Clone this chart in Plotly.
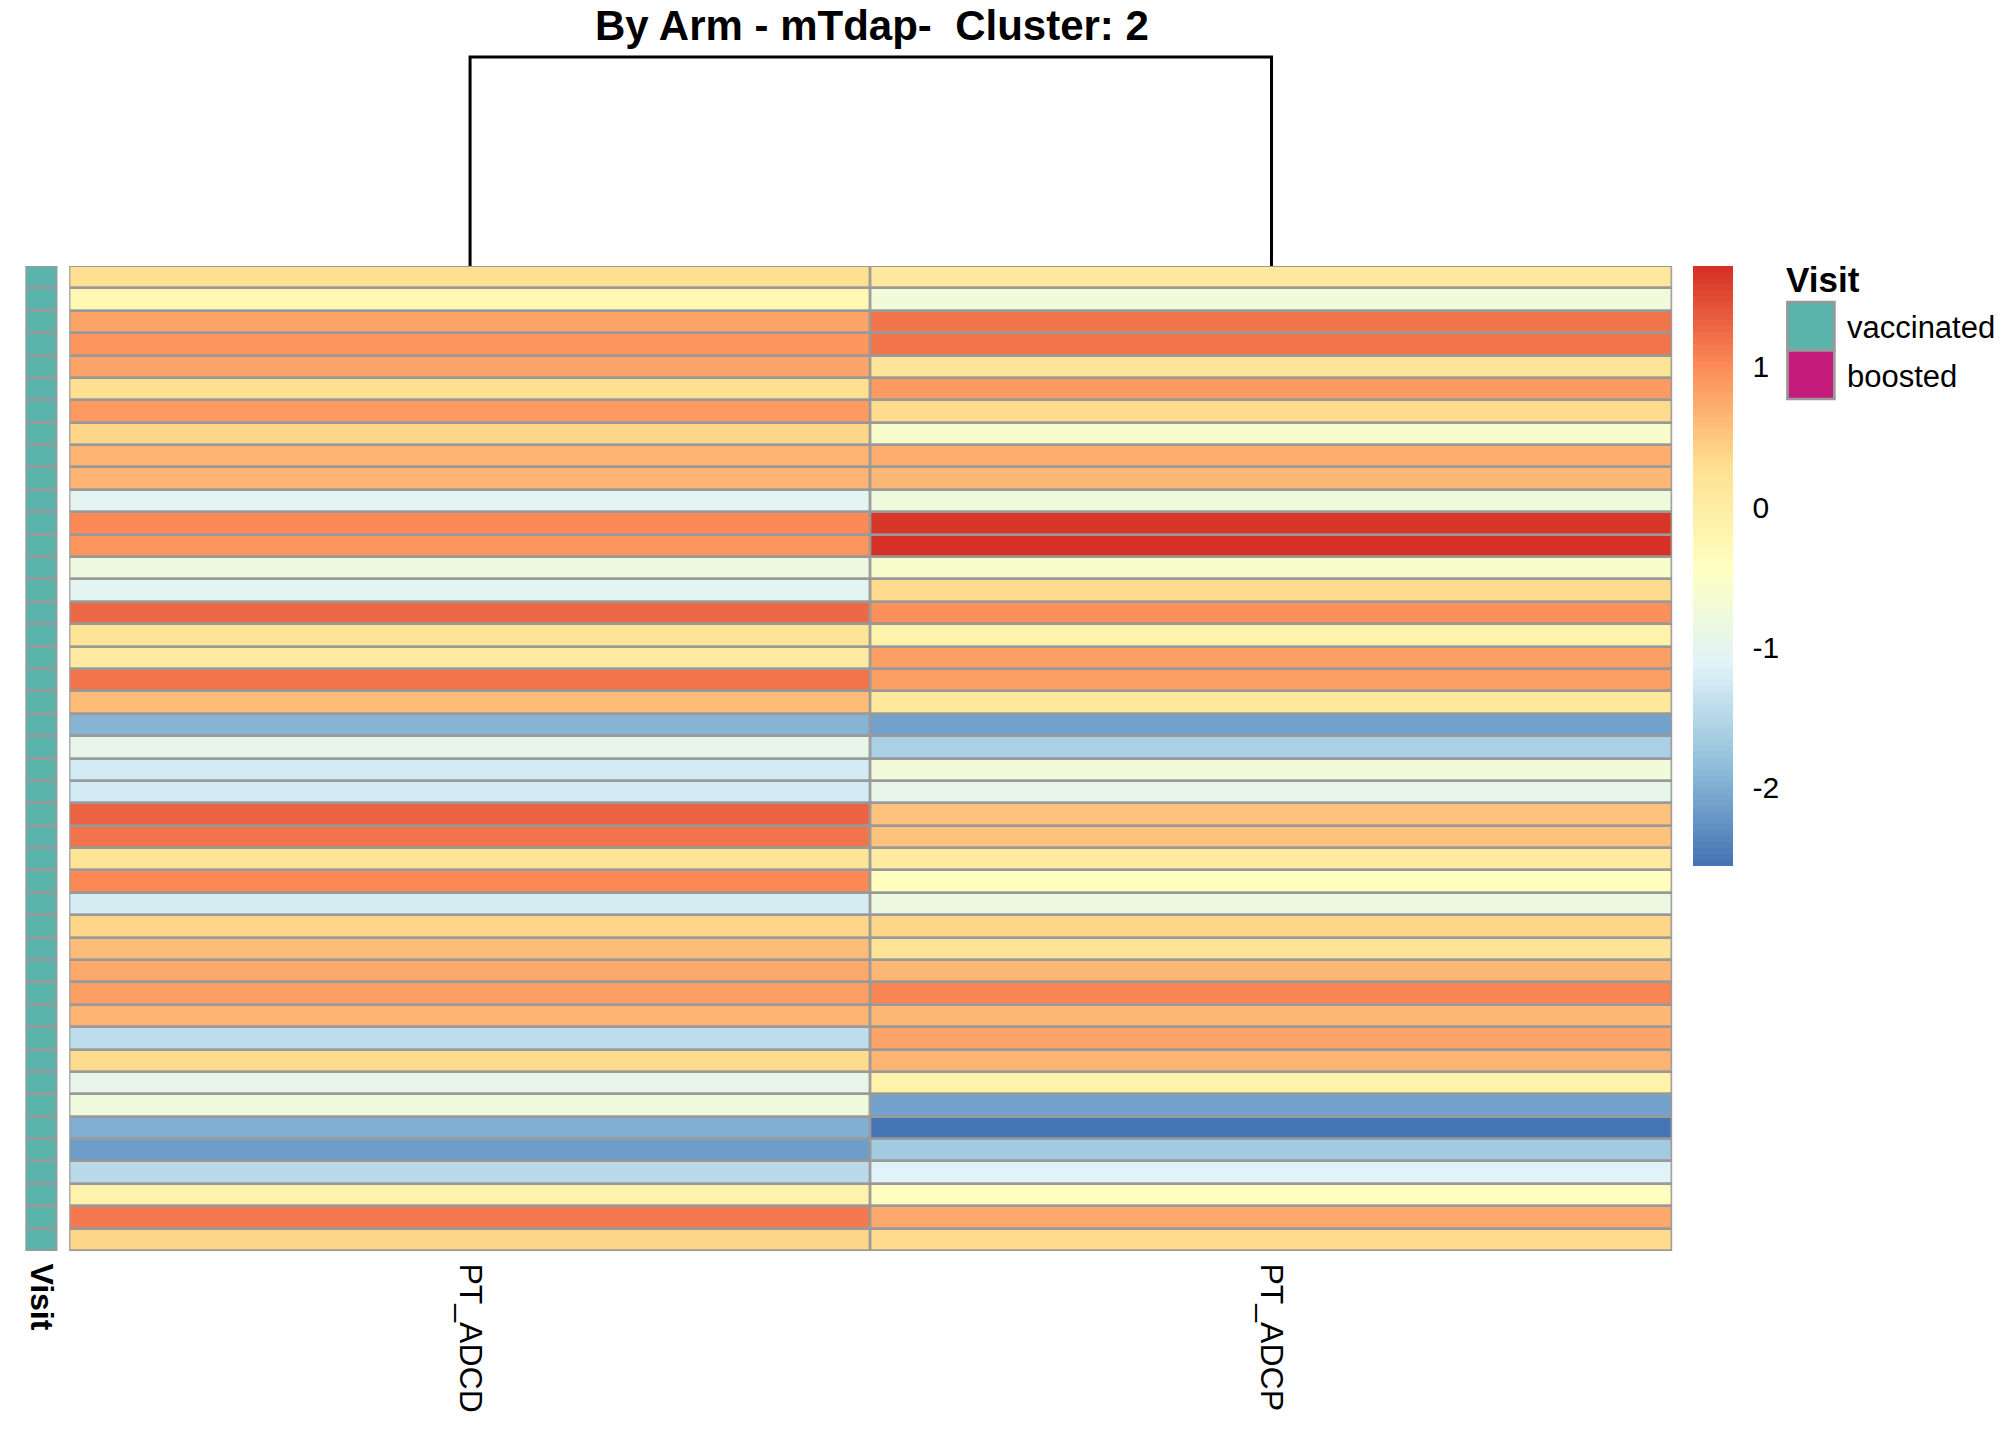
import numpy as np
import plotly.graph_objects as go

W, H = 2016, 1440
FONT = "Liberation Sans, Arial, sans-serif"

# heatmap values, rows top to bottom
columns = ["PT_ADCD", "PT_ADCP"]
pt_adcd = [0.28, -0.29, 0.80, 0.93, 0.80, 0.28, 0.89, 0.38, 0.68, 0.69,
           -1.02, 1.02, 0.93, -0.81, -1.02, 1.25, 0.19, 0.01, 1.17, 0.58,
           -1.95, -0.95, -1.26, -1.26, 1.32, 1.17, 0.18, 1.03, -1.23, 0.39,
           0.57, 0.76, 0.85, 0.66, -1.42, 0.32, -0.95, -0.77, -1.97, -2.17,
           -1.49, -0.15, 1.13, 0.39]
pt_adcp = [0.10, -0.74, 1.19, 1.17, 0.18, 0.89, 0.33, -0.59, 0.72, 0.64,
           -0.77, 1.67, 1.72, -0.59, 0.34, 0.96, -0.13, 0.86, 0.86, 0.10,
           -2.09, -1.58, -0.74, -0.95, 0.54, 0.54, 0.03, -0.40, -0.81, 0.38,
           0.19, 0.64, 1.07, 0.64, 0.78, 0.67, -0.13, -2.10, -2.56, -1.68,
           -1.13, -0.38, 0.75, 0.31]
visit = ["vaccinated"] * 44
visit_levels = ["vaccinated", "boosted"]
visit_colors = ["#5BB4AB", "#C51B7D"]
cbar_ticks = [-2, -1, 0, 1]

z = np.column_stack([pt_adcd, pt_adcp])
nrow = z.shape[0]
zmin, zmax = z.min(), z.max()


def px(x):
    return x / W


def py(y):
    return 1 - y / H


# pheatmap style: 100 colours ramped from rev(RdYlBu 7)
base = ["#4575B4", "#91BFDB", "#E0F3F8", "#FFFFBF", "#FEE090", "#FC8D59", "#D73027"]
rgb = np.array([[int(c[i:i + 2], 16) for i in (1, 3, 5)] for c in base], float)
t = np.linspace(0, 1, 100)
ramp = np.column_stack([np.interp(t, np.linspace(0, 1, 7), rgb[:, k]) for k in range(3)])
cscale = []
for i, c in enumerate(ramp):
    col = "rgb(%d,%d,%d)" % tuple(np.round(c))
    cscale.append([i / 100, col])
    cscale.append([(i + 1) / 100, col])

# column dendrogram height = euclidean distance between the two columns
dist = float(np.sqrt(((z[:, 0] - z[:, 1]) ** 2).sum()))

GAP = 2.7
GREY = "#999999"

fig = go.Figure()

fig.add_trace(go.Heatmap(
    z=z, x=[0, 1], y=list(range(nrow)),
    colorscale=cscale, zmin=zmin, zmax=zmax,
    xgap=GAP, ygap=GAP, hoverinfo="skip",
    colorbar=dict(
        thickness=40, thicknessmode="pixels",
        len=600, lenmode="pixels",
        x=px(1695), xanchor="left", y=py(266), yanchor="top",
        xpad=0, ypad=0, outlinewidth=0,
        tickvals=cbar_ticks, ticktext=[str(v) for v in cbar_ticks],
        ticks="outside", ticklen=14, tickcolor="rgba(0,0,0,0)",
        tickfont=dict(family=FONT, size=30, color="black"),
    ),
))

codes = [[visit_levels.index(v)] for v in visit]
fig.add_trace(go.Heatmap(
    z=codes, x=[0], y=list(range(nrow)), xaxis="x2", yaxis="y",
    colorscale=[[0, visit_colors[0]], [1, visit_colors[1]]],
    zmin=0, zmax=1, showscale=False, xgap=GAP, ygap=GAP, hoverinfo="skip",
))

fig.add_trace(go.Scatter(
    x=[0, 0, 1, 1], y=[0, dist, dist, 0], xaxis="x", yaxis="y3",
    mode="lines", line=dict(color="black", width=3), hoverinfo="skip",
    showlegend=False,
))

# grey backing so the gaps read as cell borders
for xr in ("x", "x2"):
    x0, x1 = (-0.5, 1.5) if xr == "x" else (-0.5, 0.5)
    fig.add_shape(type="rect", xref=xr, yref="y", x0=x0, x1=x1,
                  y0=-0.5, y1=nrow - 0.5, fillcolor=GREY,
                  line=dict(color=GREY, width=GAP), layer="below")

# annotation legend
fig.add_annotation(text="<b>Visit</b>", xref="paper", yref="paper",
                   x=px(1787), y=py(280), xanchor="left", yanchor="middle",
                   showarrow=False, font=dict(family=FONT, size=35, color="black"))
for i, (lab, col) in enumerate(zip(visit_levels, visit_colors)):
    y0 = 302 + i * 48.5
    fig.add_shape(type="rect", xref="paper", yref="paper",
                  x0=px(1790), x1=px(1837), y0=py(y0), y1=py(y0 + 48.5),
                  fillcolor=col, line=dict(color=GREY, width=GAP))
    fig.add_annotation(text=lab, xref="paper", yref="paper",
                       x=px(1848), y=py(y0 + 26), xanchor="left", yanchor="middle",
                       showarrow=False, font=dict(family=FONT, size=31, color="black"))

fig.add_annotation(text="<b>By Arm - mTdap-\u00a0 Cluster: 2</b>", xref="paper", yref="paper",
                   x=px(873), y=py(25), xanchor="center", yanchor="middle",
                   showarrow=False, font=dict(family=FONT, size=42, color="black"))

axis_common = dict(showgrid=False, zeroline=False, showline=False)
fig.update_layout(
    width=W, height=H,
    margin=dict(l=0, r=0, t=0, b=0),
    paper_bgcolor="white", plot_bgcolor="white",
    showlegend=False,
    xaxis=dict(domain=[px(68.5), px(1674.5)], range=[-0.5, 1.5], anchor="y",
               tickvals=[0, 1], ticktext=columns, tickangle=90,
               ticks="outside", ticklen=5, tickcolor="rgba(0,0,0,0)",
               tickfont=dict(family=FONT, size=32, color="black"), **axis_common),
    xaxis2=dict(domain=[px(24.5), px(56.5)], range=[-0.5, 0.5], anchor="y",
                tickvals=[0], ticktext=["<b>Visit</b>"], tickangle=90,
                ticks="outside", ticklen=5, tickcolor="rgba(0,0,0,0)",
                tickfont=dict(family=FONT, size=32, color="black"), **axis_common),
    yaxis=dict(domain=[py(1251), py(266)], range=[nrow - 0.5, -0.5],
               showticklabels=False, **axis_common),
    yaxis3=dict(domain=[py(266), py(266 - 209 * 1.05)], range=[0, dist * 1.05],
                anchor="x", showticklabels=False, **axis_common),
)

# page body has a default 8px margin; drop it so the figure sits at 0,0
fig.write_html("out.html", config={"displayModeBar": False},
               post_script="document.body.style.margin='0';document.body.style.overflow='hidden';")
